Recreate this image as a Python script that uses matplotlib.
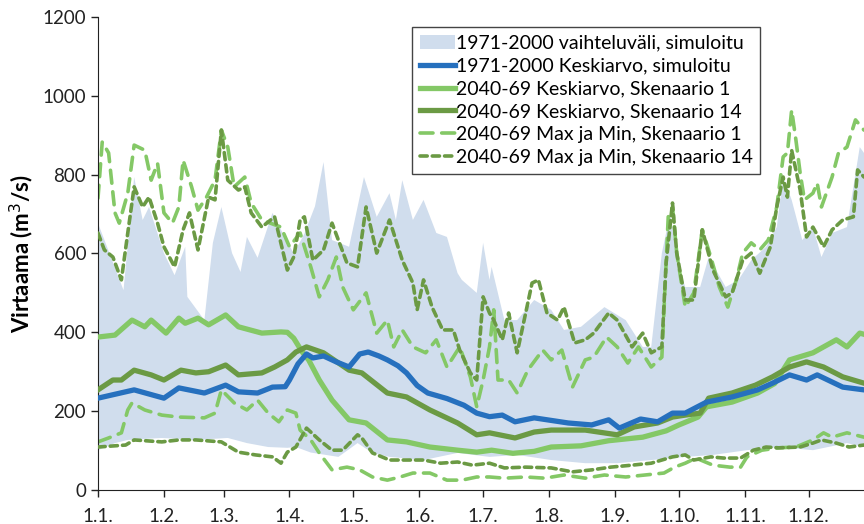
import numpy as np
import matplotlib
matplotlib.use("Agg")
import matplotlib.pyplot as plt
from matplotlib.patches import Patch
from matplotlib.lines import Line2D

plt.rcParams['font.family'] = ['Lato', 'DejaVu Sans']

# päivä vuoden alusta, virtaama m3/s
band_up_d = [0, 12, 17, 21, 24, 31, 36, 41, 42, 50, 54, 58, 63, 67, 70, 75, 82, 86, 92, 97, 102, 106,
             110, 118, 125, 131, 137, 140, 143, 148, 153, 159, 164, 169, 171, 178, 181, 184, 185, 191,
             197, 205, 213, 219, 227, 238, 248, 256, 260, 265, 269, 272, 276, 283, 287, 295, 301, 307,
             314, 319, 322, 326, 331, 336, 340, 345, 352, 358, 360]
band_up = [677, 507, 794, 685, 718, 601, 545, 617, 490, 431, 627, 718, 601, 553, 642, 589, 703, 660, 600,
           650, 720, 832, 634, 617, 794, 693, 753, 685, 786, 685, 736, 652, 642, 550, 533, 500, 627, 533,
           566, 431, 431, 482, 457, 406, 414, 464, 431, 363, 363, 601, 703, 583, 515, 515, 591, 515, 533,
           583, 617, 667, 794, 736, 634, 667, 591, 652, 667, 870, 855]
band_lo_d = [0, 8, 14, 30, 46, 61, 70, 80, 89, 93, 100, 113, 122, 129, 137, 153, 169, 184, 197, 213, 229,
             244, 260, 276, 289, 305, 320, 336, 352, 360]
band_lo = [101, 119, 127, 132, 127, 132, 119, 109, 107, 109, 95, 84, 119, 94, 84, 76, 94, 84, 89, 76, 68,
           68, 76, 84, 89, 101, 109, 101, 119, 109]

blue_d = [0, 17, 31, 38, 50, 60, 66, 75, 82, 88, 90, 94, 98, 101, 106, 112, 118, 123, 127, 132, 136, 141,
          145, 150, 155, 164, 172, 178, 184, 190, 196, 205, 221, 232, 240, 245, 255, 263, 270, 276, 286,
          298, 310, 317, 325, 333, 338, 350, 360]
blue = [233, 254, 233, 259, 246, 266, 249, 246, 261, 262, 279, 320, 345, 335, 340, 325, 312, 345, 350, 340,
        330, 315, 297, 265, 246, 232, 215, 195, 186, 190, 173, 183, 170, 165, 178, 157, 180, 173, 195, 195,
        223, 236, 254, 271, 292, 279, 292, 261, 254]

s1_d = [0, 8, 16, 22, 25, 32, 38, 41, 47, 52, 60, 66, 77, 86, 89, 92, 96, 99, 104, 110, 118, 126, 136, 145,
        156, 169, 178, 185, 195, 205, 213, 227, 240, 256, 267, 273, 282, 286, 298, 310, 318, 325, 336, 347,
        352, 358, 360]
s1 = [388, 393, 431, 414, 431, 398, 436, 423, 436, 419, 444, 414, 398, 401, 400, 385, 350, 330, 279, 228,
      178, 170, 127, 122, 109, 101, 96, 101, 93, 98, 109, 112, 125, 134, 150, 165, 185, 211, 223, 246, 270,
      330, 348, 381, 363, 398, 395]

s14_d = [0, 7, 11, 17, 25, 31, 39, 46, 52, 60, 66, 77, 83, 89, 93, 98, 106, 118, 124, 136, 145, 156, 169,
         178, 184, 196, 205, 213, 229, 244, 252, 263, 270, 276, 283, 287, 298, 309, 317, 325, 333, 341, 350,
         360]
s14 = [254, 279, 279, 304, 292, 279, 304, 297, 300, 317, 292, 297, 312, 330, 350, 363, 348, 304, 297, 246,
       236, 203, 170, 140, 145, 132, 147, 152, 152, 140, 160, 170, 185, 190, 195, 233, 246, 266, 287, 312,
       325, 312, 287, 271]

s1_max_d = [0, 2, 5, 8, 10, 14, 17, 22, 25, 28, 31, 35, 38, 40, 44, 47, 51, 55, 58, 61, 64, 69, 72, 77, 86,
            90, 95, 100, 104, 108, 112, 115, 120, 126, 131, 136, 139, 143, 148, 154, 159, 164, 170, 175, 178,
            181, 184, 186, 188, 193, 197, 202, 209, 213, 218, 223, 229, 233, 239, 244, 249, 254, 260, 265,
            268, 270, 272, 276, 280, 284, 288, 292, 296, 300, 303, 307, 311, 315, 319, 322, 324, 326, 328,
            330, 332, 336, 338, 340, 345, 348, 352, 356, 360]
s1_max = [740, 883, 855, 703, 677, 753, 875, 862, 786, 829, 703, 677, 718, 837, 769, 710, 743, 786, 913, 870,
          769, 794, 728, 685, 667, 617, 652, 566, 490, 533, 591, 515, 457, 500, 398, 431, 363, 406, 363, 348,
          381, 312, 363, 287, 211, 279, 363, 457, 279, 279, 246, 304, 355, 330, 355, 261, 330, 337, 388, 363,
          322, 363, 312, 337, 693, 718, 601, 464, 500, 660, 591, 515, 464, 533, 601, 627, 609, 634, 718, 845,
          855, 964, 888, 804, 736, 753, 779, 718, 794, 855, 870, 939, 913]
s1_min_d = [0, 5, 11, 14, 16, 22, 30, 38, 50, 55, 58, 64, 70, 75, 80, 85, 89, 93, 95, 100, 104, 110, 117,
            123, 129, 136, 142, 148, 156, 164, 171, 178, 184, 191, 201, 210, 219, 229, 238, 248, 257, 266,
            271, 276, 281, 289, 297, 302, 305, 312, 320, 328, 336, 341, 345, 352, 360]
s1_min = [122, 132, 145, 203, 221, 203, 190, 185, 183, 195, 254, 221, 203, 228, 195, 173, 203, 195, 152, 127,
          94, 51, 58, 51, 33, 25, 33, 43, 43, 25, 25, 33, 33, 30, 33, 30, 38, 30, 38, 33, 38, 43, 58, 68, 81,
          63, 58, 58, 84, 101, 107, 109, 127, 145, 134, 145, 134]

s14_max_d = [0, 3, 7, 11, 14, 17, 21, 24, 28, 31, 36, 40, 43, 47, 52, 55, 58, 61, 66, 69, 72, 77, 83, 89, 92,
             95, 97, 101, 106, 110, 117, 122, 126, 131, 137, 143, 148, 150, 153, 157, 162, 167, 170, 175, 178,
             181, 184, 186, 190, 193, 197, 201, 204, 207, 211, 216, 219, 224, 229, 233, 240, 244, 251, 256,
             260, 265, 267, 270, 272, 276, 280, 284, 289, 295, 298, 303, 307, 311, 316, 319, 322, 324, 326,
             330, 333, 336, 341, 345, 350, 355, 357, 360]
s14_max = [652, 609, 591, 533, 652, 769, 718, 743, 677, 617, 566, 660, 703, 609, 743, 736, 913, 786, 761, 769,
           703, 667, 693, 558, 591, 685, 693, 583, 609, 677, 576, 566, 718, 601, 685, 583, 525, 457, 533, 464,
           406, 406, 355, 297, 279, 490, 449, 431, 381, 449, 348, 449, 525, 533, 449, 431, 464, 373, 381, 398,
           449, 431, 363, 398, 348, 363, 576, 728, 601, 482, 482, 660, 558, 490, 500, 583, 601, 550, 617, 718,
           794, 743, 862, 761, 642, 667, 617, 660, 685, 693, 812, 794]
s14_min_d = [0, 13, 17, 30, 38, 46, 58, 66, 74, 82, 86, 89, 93, 98, 104, 110, 115, 122, 124, 129, 137, 145,
             153, 161, 169, 176, 184, 191, 201, 213, 223, 232, 241, 251, 260, 270, 276, 280, 288, 294, 302,
             308, 314, 320, 330, 336, 340, 347, 353, 360]
s14_min = [109, 114, 127, 122, 127, 127, 122, 96, 89, 84, 68, 96, 109, 157, 127, 101, 101, 140, 132, 94, 76,
           76, 76, 68, 71, 63, 68, 56, 58, 56, 46, 51, 58, 63, 68, 84, 89, 76, 84, 81, 81, 101, 109, 107, 109,
           119, 127, 119, 109, 114]

month_days = [0, 31, 59, 90, 120, 151, 181, 212, 243, 273, 304, 334]
month_labels = ["1.1.", "1.2.", "1.3.", "1.4.", "1.5.", "1.6.", "1.7.", "1.8.", "1.9.", "1.10.", "1.11.", "1.12."]

c_band = "#d0dded"
c_blue = "#2670be"
c_light = "#84c866"
c_dark = "#6b9a44"

dash_light = dict(color=c_light, lw=2.6, dashes=(3.6, 2.4), dash_capstyle="round")
dash_dark = dict(color=c_dark, lw=2.6, dashes=(2.0, 1.4), dash_capstyle="round")

fig = plt.figure(figsize=(8.64, 5.24), dpi=100)
ax = fig.add_axes([0.1134, 0.0649, 0.8866, 0.9027])

ax.fill(np.concatenate([band_up_d, band_lo_d[::-1]]), np.concatenate([band_up, band_lo[::-1]]),
        color=c_band, lw=0, zorder=1)

ax.plot(s1_max_d, s1_max, zorder=2, **dash_light)
ax.plot(s1_min_d, s1_min, zorder=2, **dash_light)
ax.plot(s14_max_d, s14_max, zorder=3, **dash_dark)
ax.plot(s14_min_d, s14_min, zorder=3, **dash_dark)

l_blue, = ax.plot(blue_d, blue, color=c_blue, lw=3.8, zorder=5)
l_s1, = ax.plot(s1_d, s1, color=c_light, lw=3.8, zorder=4)
l_s14, = ax.plot(s14_d, s14, color=c_dark, lw=3.8, zorder=4)

handles = [Patch(facecolor=c_band, edgecolor="none"),
           l_blue, l_s1, l_s14,
           Line2D([], [], **dash_light),
           Line2D([], [], **dash_dark)]
labels = ["1971-2000 vaihteluväli, simuloitu",
          "1971-2000 Keskiarvo, simuloitu",
          "2040-69 Keskiarvo, Skenaario 1",
          "2040-69 Keskiarvo, Skenaario 14",
          "2040-69 Max ja Min, Skenaario 1",
          "2040-69 Max ja Min, Skenaario 14"]
leg = ax.legend(handles, labels, loc="upper left", bbox_to_anchor=(0.41, 0.979), fontsize=14,
                frameon=True, fancybox=False, framealpha=1, edgecolor="#444444",
                handlelength=1.8, handletextpad=0.05, labelspacing=0.3, borderpad=0.4,
                borderaxespad=0)
leg.get_frame().set_linewidth(1.0)
leg.set_zorder(10)

ax.set_xlim(0, 360)
ax.set_ylim(0, 1200)
ax.set_yticks(range(0, 1201, 200))
ax.set_xticks(month_days)
ax.set_xticklabels(month_labels)
ax.tick_params(labelsize=13.5, length=5, width=1, colors="#222222")
ax.tick_params(axis="x", pad=8)
ax.spines["top"].set_visible(False)
ax.spines["right"].set_visible(False)
ax.spines["left"].set_color("#222222")
ax.spines["bottom"].set_color("#222222")
ax.set_ylabel("Virtaama (m$^3$/s)", fontsize=16, fontweight="bold", labelpad=5)

fig.savefig("out.png", dpi=100)
